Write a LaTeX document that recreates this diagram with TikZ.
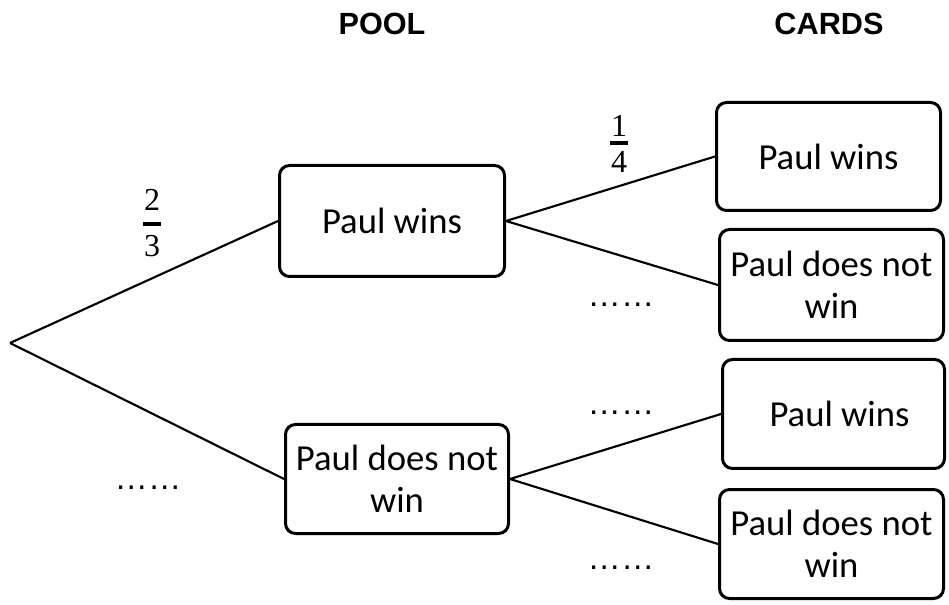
\documentclass[tikz,border=0pt]{standalone}
\usepackage{fontspec}
\setmainfont{Carlito}
\newfontfamily\hdrfont{Liberation Sans}
\newfontfamily\digitfont{Liberation Serif}
\newfontfamily\dotfont{Liberation Sans}
\newcommand\boxtext{\fontsize{27.5}{31.5}\selectfont}
\newcommand\digittext{\digitfont\fontsize{24}{28}\selectfont}
\begin{document}
\begin{tikzpicture}[x=0.75pt,y=-0.75pt,
  box/.style={draw, line width=2.25pt, rounded corners=7.5pt, inner sep=0pt,
              align=center, font=\boxtext},
  boxsz/.style 2 args={minimum width=#1*0.75pt, minimum height=#2*0.75pt},
  conn/.style={line width=1.6pt},
  header/.style={font=\hdrfont\bfseries\fontsize{23}{27}\selectfont, inner sep=0pt},
  digit/.style={font=\digittext, inner sep=0pt, anchor=base},
  fracbar/.style={line width=2.4pt},
  dots/.style={font=\dotfont\fontsize{25}{30}\selectfont, anchor=base, inner sep=0pt}]
\useasboundingbox (0,0) rectangle (949,605);

% column headings
\node[header] (hpool) at (382,24) {POOL};
\node[header] (hcards) at (829,24) {CARDS};

% root of the tree
\coordinate (root) at (10,343);

% first stage
\node[box, boxsz={225}{111}] (p1) at (392,221) {Paul wins};
\node[box, boxsz={223}{109}] (p2) at (397,479) {Paul does not\\win};

% second stage
\node[box, boxsz={224}{108}] (c1) at (828.5,156.5) {Paul wins};
\node[box, boxsz={224}{111}] (c2) at (831.5,285) {Paul does not\\win};
\node[box, boxsz={222}{109}] (c3) at (833.5,414) {\hspace{9pt}Paul wins};
\node[box, boxsz={224}{109}] (c4) at (831.5,544) {Paul does not\\win};

% branches
\draw[conn] (root) -- (p1.west);
\draw[conn] (root) -- (p2.west);
\draw[conn] (p1.east) -- (c1.west);
\draw[conn] (p1.east) -- (c2.west);
\draw[conn] (p2.east) -- (c3.west);
\draw[conn] (p2.east) -- (c4.west);

% branch probability 2/3
\node[digit] (n23) at (152,211) {2};
\node[digit] (d23) at (152,257) {3};
\draw[fracbar] (143,224) -- (161,224);

% branch probability 1/4
\node[digit] (n14) at (619,137) {1};
\node[digit] (d14) at (619,173) {4};
\draw[fracbar] (610,143) -- (628,143);

% blanks to fill in
\node[dots] (b1) at (148,489) {……};
\node[dots] (b2) at (621,307) {……};
\node[dots] (b3) at (621,415) {……};
\node[dots] (b4) at (621,569) {……};
\end{tikzpicture}
\end{document}
